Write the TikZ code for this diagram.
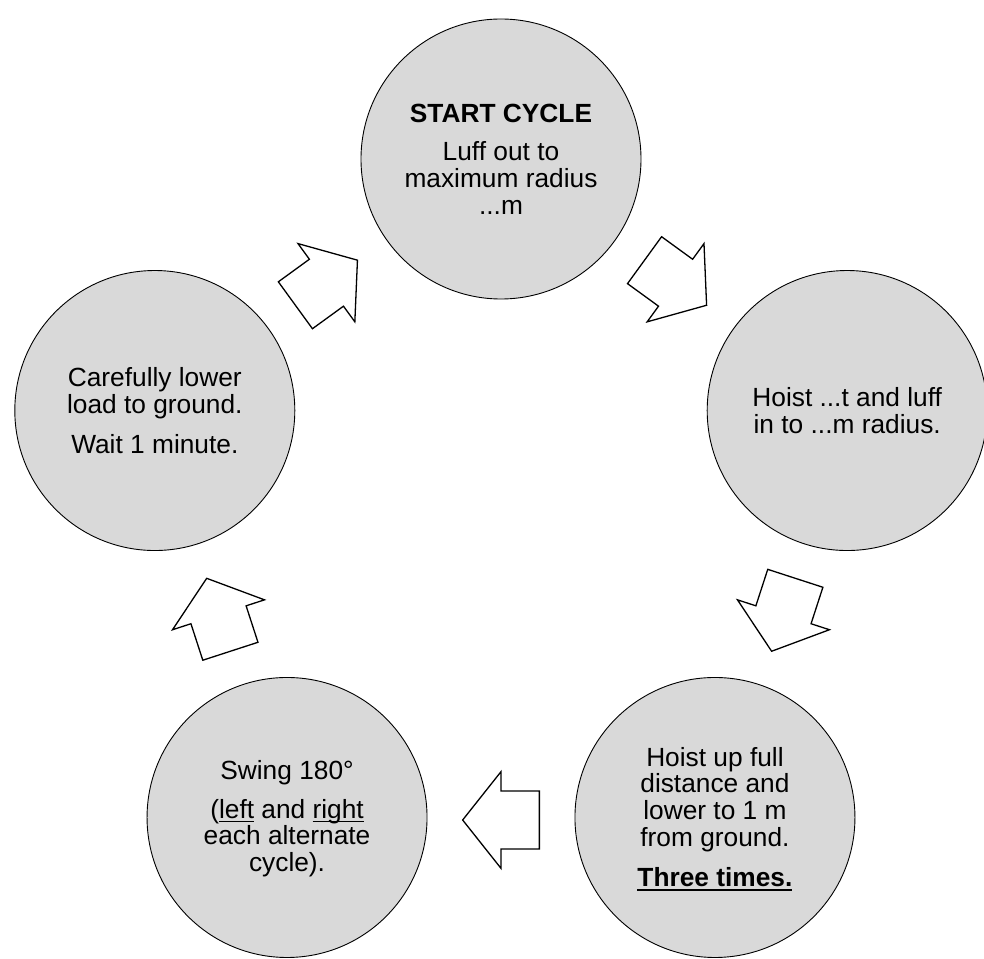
\documentclass[tikz,border=0pt]{standalone}
\usepackage{fontspec}
\setmainfont{Liberation Sans}
\definecolor{circfill}{RGB}{217,217,217}
\newsavebox\ulbox
\newcommand\sv{\rule[-3.2pt]{0pt}{25.2pt}}
\newcommand\myul[1]{\sbox\ulbox{#1}\rlap{\rule[-4pt]{\wd\ulbox}{1.3pt}}\usebox\ulbox}
\newcommand\myulb[1]{\sbox\ulbox{#1}\rlap{\rule[-4.6pt]{\wd\ulbox}{1.9pt}}\usebox\ulbox}
\begin{document}
\begin{tikzpicture}[x=1pt,y=1pt,
  cyclecirc/.style={circle, draw=black, line width=0.9pt, fill=circfill,
    minimum size=280pt, inner sep=0pt, align=center,
    font=\fontsize{26.3}{26.7}\selectfont},
  arrowline/.style={draw=black, fill=white, line width=1.3pt, line join=miter},
  blockarrow/.pic={\path[arrowline] (-38.35,-29) -- (0,-29) -- (0,-48.35)
     -- (38.35,0) -- (0,48.35) -- (0,29) -- (-38.35,29) -- cycle;}]
\useasboundingbox (-501,-435) rectangle (483,523);
\clip (-501,-435) rectangle (483,523);

\node[cyclecirc] (c1) at (90:364) {\sv\textbf{START CYCLE}\\[11.6pt] Luff out to\\ maximum radius\\ ...m\sv};
\node[cyclecirc] (c2) at (18:364) {\sv Hoist ...t and luff\\ in to ...m radius.\sv};
\node[cyclecirc] (c3) at (-54:364) {\sv Hoist up full\\ distance and\\ lower to 1 m\\ from ground.\\[11.6pt] \myulb{\textbf{Three times.}}\sv};
\node[cyclecirc] (c4) at (-126:364) {\sv Swing 180°\\[11.6pt] (\myul{left} and \myul{right}\\ each alternate\\ cycle).\sv};
\node[cyclecirc] (c5) at (162:364) {\sv Carefully lower\\ load to ground.\\[11.6pt] Wait 1 minute.\sv};

\pic[rotate=-36] at (54:297) {blockarrow};
\pic[rotate=-108] at (-18:297) {blockarrow};
\pic[rotate=180] at (-90:297) {blockarrow};
\pic[rotate=108] at (-162:297) {blockarrow};
\pic[rotate=36] at (126:297) {blockarrow};
\end{tikzpicture}
\end{document}
